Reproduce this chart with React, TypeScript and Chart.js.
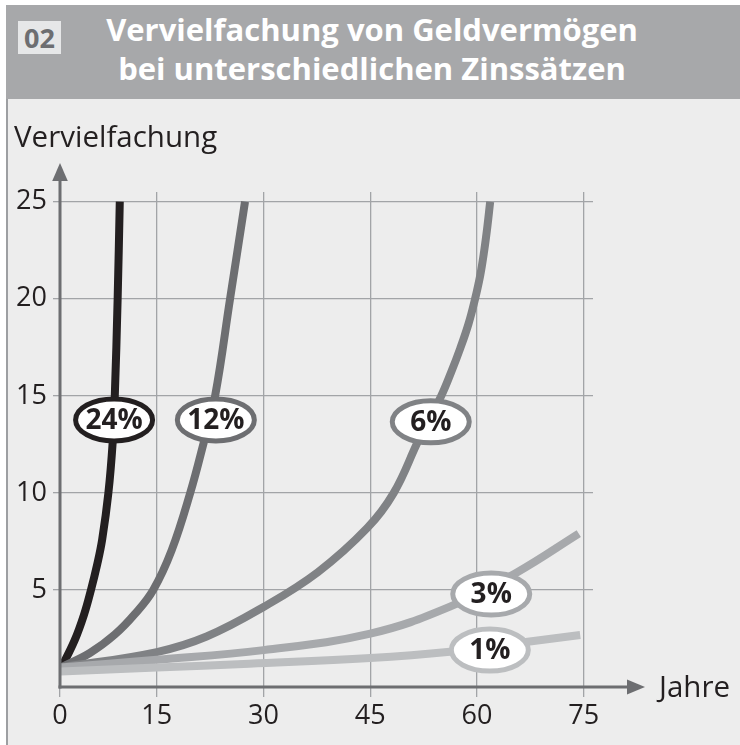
import React, { useEffect, useRef } from "react";
import { Chart, registerables } from "chart.js";

Chart.register(...registerables);

// ---- data ----
const seriesLabels = ["1%", "3%", "6%", "12%", "24%"];
const seriesColors = ["#bcbec0", "#a7a9ac", "#808285", "#6d6e71", "#231f20"];

const years1 = [1.5, 15, 28, 45, 56.2, 67.4, 74.5];
const values1 = [0.8, 1.0, 1.2, 1.49, 1.82, 2.34, 2.68];

const years3 = [1.5, 15, 30, 45, 56.2, 65.6, 74.3];
const values3 = [1.0, 1.4, 1.9, 2.75, 4.14, 5.9, 7.9];

const years6 = [1.5, 15, 22, 30, 37.65, 44.6, 48.3, 51.8, 54.9, 56.35, 57.65, 58.8, 59.7, 60.45, 61.0, 61.45, 61.85];
const values6 = [1.0, 1.8, 2.6, 4.12, 5.92, 8.2, 10, 12.72, 14.94, 16.2, 17.45, 18.7, 19.95, 21.2, 22.45, 23.7, 25];

const years12 = [1.5, 5.6, 9.1, 11.9, 14.5, 17.1, 19.7, 21.6, 23.2, 25.3, 27.4];
const values12 = [1.0, 1.75, 2.7, 3.75, 5.0, 7.05, 10, 12.6, 15, 20, 25];

const years24 = [1.6, 3.45, 4.75, 5.75, 6.62, 7.33, 8.2, 8.8, 9.1, 9.5, 9.8];
const values24 = [1.0, 2.4, 3.7, 5.0, 6.3, 7.6, 10, 12.6, 15, 20, 25];

const labelYears = [61.8, 62.0, 53.5, 23.3, 9.0];
const labelValues = [1.9, 4.79, 13.66, 13.76, 13.76];

const xTickPositions = [1.4, 15, 30, 45, 60, 75];
const xTickLabels = ["0", "15", "30", "45", "60", "75"];
const yTickValues = [5, 10, 15, 20, 25];

const X_MIN = 1.4;
const X_MAX = 76.3;
const Y_MIN = 0;
const Y_MAX = 25.5;

const allYears = [years1, years3, years6, years12, years24];
const allValues = [values1, values3, values6, values12, values24];

const FONT = "'Open Sans', 'DejaVu Sans', sans-serif";
const INK = "#231f20";
const AXIS = "#6d6e71";

const decorPlugin = {
  id: "decor",
  afterDatasetsDraw(chart: any) {
    const { ctx, scales } = chart;
    const xs = scales.x;
    const ys = scales.y;
    ctx.save();
    for (let i = 0; i < seriesLabels.length; i++) {
      const cx = xs.getPixelForValue(labelYears[i]);
      const cy = ys.getPixelForValue(labelValues[i]);
      ctx.beginPath();
      ctx.ellipse(cx, cy, 38.5, 21, 0, 0, Math.PI * 2);
      ctx.fillStyle = "#ffffff";
      ctx.fill();
      ctx.lineWidth = 5;
      ctx.strokeStyle = seriesColors[i];
      ctx.stroke();
      ctx.fillStyle = INK;
      ctx.font = `bold 28px ${FONT}`;
      ctx.textAlign = "center";
      ctx.textBaseline = "middle";
      ctx.fillText(seriesLabels[i], cx, cy + 1);
    }
    ctx.restore();
  },
  afterDraw(chart: any) {
    const { ctx, chartArea } = chart;
    const { left, right, top, bottom } = chartArea;
    ctx.save();
    ctx.strokeStyle = AXIS;
    ctx.fillStyle = AXIS;
    ctx.lineWidth = 3;
    ctx.lineCap = "butt";
    // y axis
    const yTip = top - 29;
    ctx.beginPath();
    ctx.moveTo(left, bottom + 1.5);
    ctx.lineTo(left, yTip + 10);
    ctx.stroke();
    ctx.beginPath();
    ctx.moveTo(left, yTip);
    ctx.lineTo(left - 7.8, yTip + 18);
    ctx.lineTo(left + 7.8, yTip + 18);
    ctx.closePath();
    ctx.fill();
    // x axis
    const xTip = right + 52;
    ctx.beginPath();
    ctx.moveTo(left - 1.5, bottom);
    ctx.lineTo(xTip - 10, bottom);
    ctx.stroke();
    ctx.beginPath();
    ctx.moveTo(xTip, bottom);
    ctx.lineTo(xTip - 18, bottom - 7.5);
    ctx.lineTo(xTip - 18, bottom + 7.5);
    ctx.closePath();
    ctx.fill();
    // axis titles
    ctx.fillStyle = INK;
    ctx.font = `29.5px ${FONT}`;
    ctx.textAlign = "left";
    ctx.textBaseline = "alphabetic";
    ctx.fillText("Vervielfachung", 14, top - 45);
    ctx.fillText("Jahre", xTip + 14, bottom + 10);
    ctx.restore();
  },
};

export default function App() {
  const canvasRef = useRef<HTMLCanvasElement | null>(null);

  useEffect(() => {
    if (!canvasRef.current) return;
    const datasets = seriesLabels.map((lab, i) => ({
      label: lab,
      data: allYears[i].map((x, j) => ({ x, y: allValues[i][j] })),
      borderColor: seriesColors[i],
      borderWidth: 8,
      borderCapStyle: "butt" as const,
      borderJoinStyle: "round" as const,
      pointRadius: 0,
      fill: false,
      tension: 0.4,
    }));

    const chart = new Chart(canvasRef.current, {
      type: "line",
      data: { datasets },
      options: {
        responsive: false,
        animation: false,
        devicePixelRatio: 1,
        layout: { padding: { left: 0, right: 147, top: 192, bottom: 0 } },
        plugins: {
          legend: { display: false },
          tooltip: { enabled: false },
          title: { display: false },
        },
        scales: {
          x: {
            type: "linear",
            min: X_MIN,
            max: X_MAX,
            afterBuildTicks: (scale: any) => {
              scale.ticks = xTickPositions.map((v) => ({ value: v }));
            },
            afterFit: (scale: any) => {
              scale.height = 58;
            },
            ticks: {
              autoSkip: false,
              maxRotation: 0,
              padding: 3,
              color: INK,
              font: { family: FONT, size: 27 },
              callback: (_v: any, idx: number) => xTickLabels[idx],
            },
            grid: { color: "#a2a4a7", lineWidth: 1.3, tickLength: 10, drawTicks: true },
            border: { display: false },
          },
          y: {
            type: "linear",
            min: Y_MIN,
            max: Y_MAX,
            afterBuildTicks: (scale: any) => {
              scale.ticks = yTickValues.map((v) => ({ value: v }));
            },
            afterFit: (scale: any) => {
              scale.width = 60;
            },
            ticks: {
              autoSkip: false,
              padding: 6,
              color: INK,
              font: { family: FONT, size: 27 },
              callback: (v: any) => String(v),
            },
            grid: { color: "#a2a4a7", lineWidth: 1.3, tickLength: 7, drawTicks: true },
            border: { display: false },
          },
        },
      },
      plugins: [decorPlugin],
    });
    return () => chart.destroy();
  }, []);

  return (
    <div
      style={{
        position: "absolute",
        left: 0,
        top: 0,
        width: 740,
        height: 745,
        background: "#ffffff",
        overflow: "hidden",
        fontFamily: FONT,
      }}
    >
      <div
        style={{
          position: "absolute",
          left: 6,
          top: 5,
          width: 734,
          height: 94,
          background: "#a7a8aa",
        }}
      />
      <div
        style={{
          position: "absolute",
          left: 18,
          top: 21,
          width: 43,
          height: 33,
          background: "#e6e7e8",
          color: "#6d6e71",
          fontWeight: 700,
          fontSize: 27,
          lineHeight: "33px",
          textAlign: "center",
        }}
      >
        02
      </div>
      <div
        style={{
          position: "absolute",
          left: 6,
          top: 10,
          width: 732,
          color: "#ffffff",
          fontWeight: 700,
          fontSize: 31,
          lineHeight: "39px",
          textAlign: "center",
        }}
      >
        <div>Vervielfachung von Geldvermögen</div>
        <div>bei unterschiedlichen Zinssätzen</div>
      </div>
      <div
        style={{
          position: "absolute",
          left: 6,
          top: 99,
          width: 734,
          height: 646,
          background: "#ededed",
          borderLeft: "2px solid #9d9fa2",
          boxSizing: "border-box",
        }}
      />
      <canvas
        ref={canvasRef}
        width={740}
        height={745}
        style={{ position: "absolute", left: 0, top: 0, width: 740, height: 745 }}
      />
    </div>
  );
}
